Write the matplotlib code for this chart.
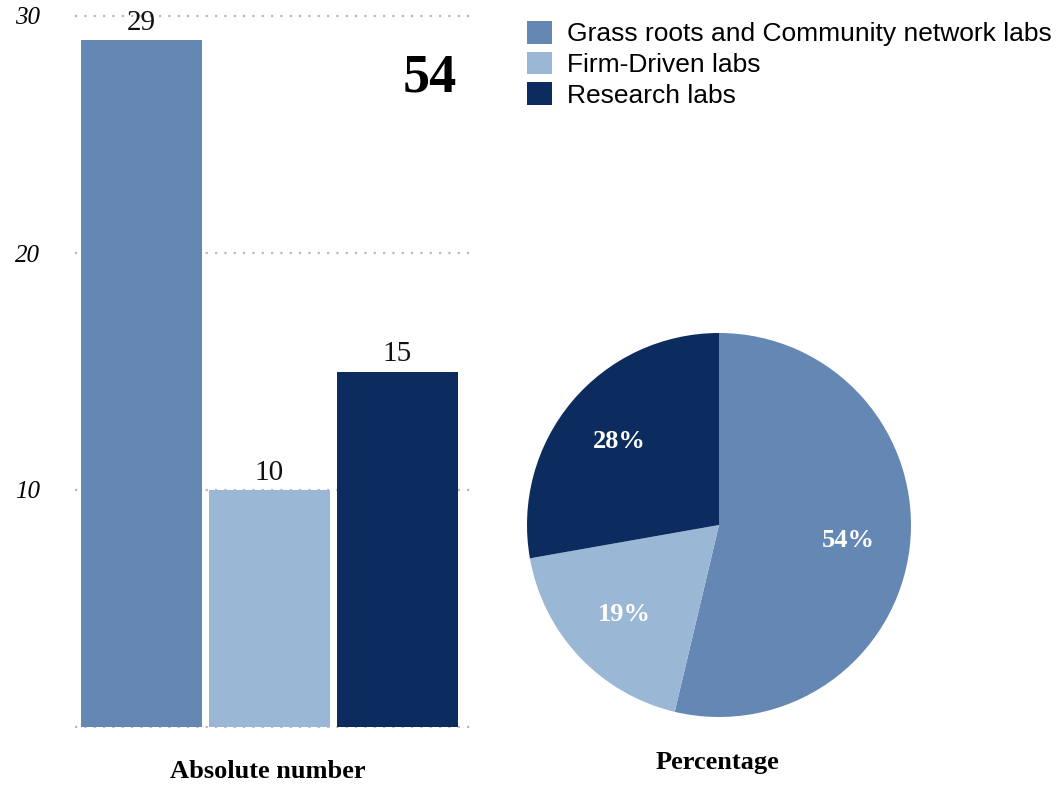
import matplotlib
matplotlib.use("Agg")
import matplotlib.pyplot as plt
from matplotlib.patches import Patch

categories = ["Grass roots and Community network labs", "Firm-Driven labs", "Research labs"]
counts = [29, 10, 15]
total = 54
colors = ["#6587B4", "#9BB7D6", "#0C2B5E"]
yticks = [10, 20, 30]

serif = ["Liberation Serif", "DejaVu Serif"]
sans = ["Liberation Sans", "DejaVu Sans"]

W, H = 1056, 785
fig = plt.figure(figsize=(W / 100, H / 100), dpi=100)

# bar chart (absolute numbers)
ax = fig.add_axes([75 / W, (H - 727) / H, 395 / W, 711 / H])
x = range(len(counts))
bars = ax.bar(x, counts, width=0.947, color=colors, zorder=2)
for v in [0] + yticks:
    ax.axhline(v, color="#B8B8B8", lw=1.6, ls=(0, (1, 3.2)), zorder=1, clip_on=False)
for b, v in zip(bars, counts):
    ax.annotate(str(v), (b.get_x() + b.get_width() / 2, v), xytext=(0, 3),
                textcoords="offset points", ha="center", va="bottom",
                fontsize=21, family=serif, color="#111111")
ax.set_xlim(-0.52, 2.571)
ax.set_ylim(0, 30)
ax.set_xticks([])
ax.set_yticks(yticks)
ax.set_yticklabels([str(t) for t in yticks], fontsize=18, family=serif, style="italic")
ax.tick_params(axis="y", length=0, pad=25)
for s in ax.spines.values():
    s.set_visible(False)

fig.text(430 / W, 1 - 78 / H, str(total), ha="center", va="center",
         fontsize=39, fontweight="bold", family=serif)
fig.text(268 / W, 1 - 772 / H, "Absolute number", ha="center", va="center",
         fontsize=19, fontweight="bold", family=serif)

# pie chart (percentages)
r = 192
pax = fig.add_axes([(719 - r) / W, (H - 525 - r) / H, 2 * r / W, 2 * r / H])
wedges, texts, autotexts = pax.pie(counts, colors=colors, startangle=90, counterclock=False,
                                   autopct="%.0f%%", pctdistance=0.68,
                                   textprops=dict(color="white", fontsize=19,
                                                  fontweight="bold", family=serif))
pax.set_xlim(-1, 1)
pax.set_ylim(-1, 1)
pax.set_aspect("equal")
fig.text(717 / W, 1 - 762 / H, "Percentage", ha="center", va="center",
         fontsize=19, fontweight="bold", family=serif)

handles = [Patch(facecolor=c, label=l) for c, l in zip(colors, categories)]
fig.legend(handles=handles, loc="upper left", bbox_to_anchor=(527 / W, 1 - 21 / H),
           frameon=False, borderpad=0, borderaxespad=0, handlelength=0.95,
           handleheight=0.95, handletextpad=0.57, labelspacing=0.2,
           prop=dict(family=sans, size=19))

fig.savefig("out.png", dpi=100)
